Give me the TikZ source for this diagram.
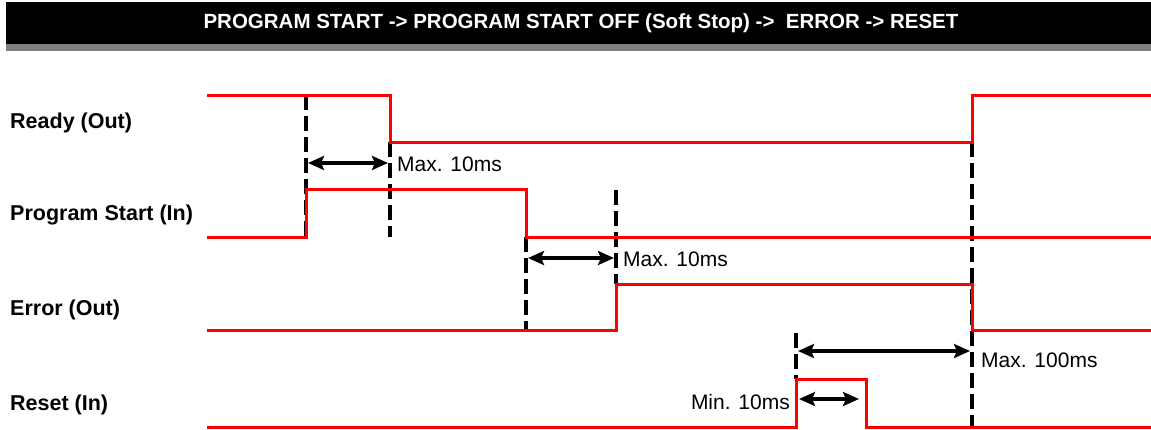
\documentclass[tikz,border=0pt]{standalone}
\usepackage{fontspec}
\setmainfont{Liberation Sans}
\usetikzlibrary{arrows.meta}
\begin{document}
\begin{tikzpicture}[x=1pt,y=-1pt,
  sig/.style={red, line width=3pt, line join=miter},
  guide/.style={black, line width=3.5pt, dash pattern=on 15pt off 6pt},
  meas/.style={black, line width=3.5pt,
    {Stealth[length=16pt,width=14pt,inset=3pt]}-{Stealth[length=16pt,width=14pt,inset=3pt]},
    shorten <=2pt, shorten >=2pt},
  lbl/.style={font=\fontsize{21.5}{24}\selectfont\bfseries, anchor=west, inner sep=0pt},
  note/.style={font=\fontsize{21}{24}\selectfont, inner sep=0pt},
  ttl/.style={font=\fontsize{20.5}{24}\selectfont\bfseries, text=white, inner sep=0pt}]
\useasboundingbox (0,0) rectangle (1151,429);
% title bar
\fill[black!50] (6,44) rectangle (1151,51);
\fill[black] (6,2) rectangle (1151,44);
\node[ttl] (title) at (581,23) {PROGRAM START -> PROGRAM START OFF (Soft Stop) ->\ \ ERROR -> RESET};
% signal names
\node[lbl] (ready) at (10,123) {Ready (Out)};
\node[lbl] (prog) at (10,215) {Program Start (In)};
\node[lbl] (err) at (10,310) {Error (Out)};
\node[lbl] (reset) at (10,405) {Reset (In)};
% guide lines
\draw[guide] (306,95) -- (306,237);
\draw[guide] (390,142) -- (390,237);
\draw[guide] (526,237) -- (526,330);
\draw[guide] (616,190) -- (616,284);
\draw[guide] (796,333) -- (796,379);
\draw[guide] (972,142) -- (972,427);
% signals
\draw[sig] (207,95) -- (390,95) -- (390,142) -- (972,142) -- (972,95) -- (1151,95);
\draw[sig] (207,237) -- (306,237) -- (306,189) -- (526,189) -- (526,237) -- (1151,237);
\draw[sig] (207,330) -- (616,330) -- (616,284) -- (972,284) -- (972,330) -- (1151,330);
\draw[sig] (207,427) -- (796,427) -- (796,379) -- (866,379) -- (866,427) -- (1151,427);
% measurements
\coordinate (m1a) at (306,163); \coordinate (m1b) at (390,163);
\coordinate (m2a) at (526,258); \coordinate (m2b) at (616,258);
\coordinate (m3a) at (796,351); \coordinate (m3b) at (972,351);
\coordinate (m4a) at (798,399); \coordinate (m4b) at (859,399);
\draw[meas] (m1a) -- (m1b);
\draw[meas] (m2a) -- (m2b);
\draw[meas] (m3a) -- (m3b);
\draw[meas, shorten <=1pt, shorten >=0pt] (m4a) -- (m4b);
\node[note, anchor=west] (t1) at (397,164) {Max. 10ms};
\node[note, anchor=west] (t2) at (623,259) {Max. 10ms};
\node[note, anchor=west] (t3) at (981,360) {Max. 100ms};
\node[note, anchor=east] (t4) at (790,402) {Min. 10ms};
\end{tikzpicture}
\end{document}
